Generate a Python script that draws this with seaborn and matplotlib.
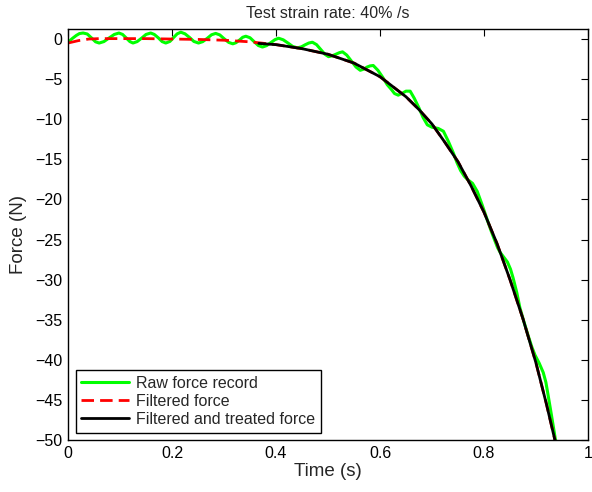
import numpy as np
import pandas as pd
import matplotlib
matplotlib.use('Agg')
import matplotlib.pyplot as plt
import seaborn as sns

# raw force record
raw_t = [0.000, 0.008, 0.016, 0.022, 0.029, 0.037, 0.045, 0.053, 0.060, 0.069,
         0.079, 0.089, 0.098, 0.105, 0.112, 0.119, 0.125, 0.133, 0.142, 0.150,
         0.159, 0.166, 0.174, 0.181, 0.188, 0.196, 0.203, 0.210, 0.217, 0.225,
         0.234, 0.242, 0.251, 0.259, 0.268, 0.276, 0.284, 0.292, 0.300, 0.309,
         0.317, 0.323, 0.330, 0.336, 0.342, 0.350, 0.358, 0.366, 0.374, 0.382,
         0.390, 0.398, 0.405, 0.414, 0.423, 0.432, 0.441, 0.449, 0.456, 0.463,
         0.470, 0.478, 0.486, 0.494, 0.501, 0.508, 0.515, 0.522, 0.528, 0.536,
         0.545, 0.554, 0.562, 0.569, 0.575, 0.581, 0.587, 0.596, 0.605, 0.614,
         0.622, 0.628, 0.635, 0.643, 0.650, 0.658, 0.666, 0.675, 0.683, 0.691,
         0.700, 0.712, 0.722, 0.731, 0.741, 0.748, 0.755, 0.762, 0.768, 0.778,
         0.787, 0.796, 0.806, 0.813, 0.820, 0.826, 0.831, 0.838, 0.845, 0.851,
         0.856, 0.863, 0.869, 0.877, 0.885, 0.892, 0.898, 0.906, 0.914, 0.919,
         0.923, 0.930, 0.937, 0.945]
raw_f = [-0.40, 0.05, 0.45, 0.68, 0.75, 0.63, 0.15, -0.35, -0.50, -0.32,
         0.13, 0.57, 0.75, 0.57, 0.13, -0.32, -0.50, -0.32, 0.13, 0.57,
         0.75, 0.57, 0.13, -0.32, -0.50, -0.30, 0.18, 0.65, 0.85, 0.65,
         0.18, -0.30, -0.50, -0.33, 0.10, 0.53, 0.70, 0.51, 0.05, -0.42,
         -0.60, -0.46, -0.12, 0.22, 0.35, 0.16, -0.33, -0.81, -1.00, -0.82,
         -0.45, -0.08, 0.10, -0.10, -0.50, -0.92, -1.10, -0.97, -0.72, -0.50,
         -0.40, -0.70, -1.30, -1.90, -2.20, -2.10, -1.90, -1.70, -1.60, -2.00,
         -2.75, -3.50, -3.90, -3.75, -3.50, -3.35, -3.30, -3.90, -4.75, -5.70,
         -6.30, -6.80, -7.00, -6.75, -6.50, -6.50, -7.40, -8.60, -9.80, -10.70,
         -11.0, -11.15, -11.5, -12.7, -14.2, -15.4, -16.4, -17.1, -17.5, -18.0,
         -19.0, -20.6, -22.5, -23.8, -25.0, -26.0, -26.6, -27.2, -27.8, -28.7,
         -29.8, -31.6, -33.5, -35.3, -37.0, -38.4, -39.4, -40.4, -41.6, -42.8,
         -44.3, -47.0, -49.8, -52.0]

# filtered force
filt_t = [0.00, 0.02, 0.04, 0.06, 0.10, 0.15, 0.20, 0.25, 0.30, 0.35,
          0.40, 0.45, 0.50, 0.55, 0.60, 0.65, 0.675, 0.70, 0.725, 0.75,
          0.775, 0.80, 0.825, 0.85, 0.875, 0.90, 0.92, 0.94]
filt_f = [-0.5, -0.2, 0.0, 0.05, 0.05, 0.05, 0.0, -0.05, -0.15, -0.35,
          -0.7, -1.2, -1.9, -3.0, -4.7, -7.2, -8.8, -10.6, -12.9, -15.3,
          -18.3, -21.6, -25.5, -30.0, -34.9, -40.4, -45.5, -51.0]

# filtered and treated force
treat_t = [0.367, 0.40, 0.45, 0.50, 0.55, 0.60, 0.65, 0.675, 0.70, 0.725,
           0.75, 0.775, 0.80, 0.825, 0.85, 0.875, 0.90, 0.92, 0.94]
treat_f = [-0.55, -0.7, -1.2, -1.9, -3.0, -4.7, -7.2, -8.8, -10.6, -12.9,
           -15.3, -18.3, -21.6, -25.5, -30.0, -34.9, -40.4, -45.5, -51.0]

sns.set_style('white')
plt.rcParams['font.family'] = ['Liberation Sans', 'DejaVu Sans']

fig = plt.figure(figsize=(5.92, 4.92), dpi=100)
ax = fig.add_axes([68 / 592, 52 / 492, 520 / 592, 411 / 492])

raw = pd.DataFrame({'t': raw_t, 'f': raw_f})
filt = pd.DataFrame({'t': filt_t, 'f': filt_f})
treat = pd.DataFrame({'t': treat_t, 'f': treat_f})

sns.lineplot(data=raw, x='t', y='f', ax=ax, color='#00ff00', linewidth=2.2,
             label='Raw force record', sort=False)
sns.lineplot(data=filt, x='t', y='f', ax=ax, color='#ff0000', linewidth=2.0,
             linestyle=(0, (4.5, 2.2)), label='Filtered force', sort=False)
sns.lineplot(data=treat, x='t', y='f', ax=ax, color='black', linewidth=2.0,
             label='Filtered and treated force', sort=False)

ax.set_xlim(0, 1)
ax.set_ylim(-50, 1.25)
ax.set_xticks([0, 0.2, 0.4, 0.6, 0.8, 1])
ax.set_xticklabels(['0', '0.2', '0.4', '0.6', '0.8', '1'])
ax.set_yticks(np.arange(-50, 1, 5))
ax.tick_params(direction='in', length=5, width=0.8, top=True, right=True,
               labelsize=11.5, colors='black', pad=4)
for sp in ax.spines.values():
    sp.set_color('black')
    sp.set_linewidth(1.0)

ax.set_xlabel('Time (s)', fontsize=13.5, labelpad=2)
ax.set_ylabel('Force (N)', fontsize=13.5, labelpad=6)
ax.set_title('Test strain rate: 40% /s', fontsize=11.5, pad=8)

leg = ax.legend(loc='lower left', bbox_to_anchor=(0.015, 0.018), fontsize=11.5,
                frameon=True, fancybox=False, edgecolor='black',
                handlelength=3.0, handletextpad=0.45, labelspacing=0.2,
                borderpad=0.35, borderaxespad=0)
leg.get_frame().set_linewidth(1.0)
leg.get_frame().set_alpha(1)

fig.savefig('out.png', dpi=100)
